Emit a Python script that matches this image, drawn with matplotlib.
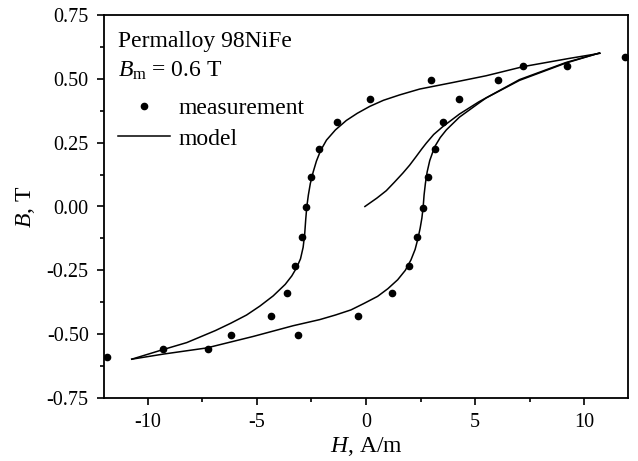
import matplotlib as mpl
mpl.use('Agg')
from matplotlib import pyplot as plt
from matplotlib.ticker import MultipleLocator

# dpi for figure
my_dpi = 100

# measured points (H in A/m, B in T)
H_meas = [11.87, 9.21, 7.21, 6.04, 4.25, 3.51, 3.14, 2.85, 2.61, 2.35, 1.97, 1.18, -0.35,
          2.99, 0.18, -1.34, -2.14, -2.50, -2.76, -2.95, -3.24, -3.61, -4.37, -6.19,
          -3.11, -7.25, -9.30, -11.84]
B_meas = [0.585, 0.551, 0.552, 0.495, 0.421, 0.329, 0.226, 0.114, -0.004, -0.121, -0.232, -0.337, -0.429,
          0.496, 0.422, 0.331, 0.226, 0.115, -0.002, -0.120, -0.233, -0.337, -0.427, -0.503,
          -0.503, -0.559, -0.557, -0.591]

# model, descending branch
H_desc = [10.72, 9.31, 7.21, 5.50, 4.00, 2.46, 1.54, 0.80, 0.17, -0.40, -0.90, -1.40, -1.81,
          -2.08, -2.27, -2.42, -2.55, -2.64, -2.71, -2.76, -2.81, -2.88, -3.00, -3.18, -3.40,
          -3.70, -4.25, -4.86, -5.47, -6.19, -6.90, -8.21, -9.28, -10.73]
B_desc = [0.600, 0.580, 0.548, 0.512, 0.486, 0.460, 0.437, 0.416, 0.392, 0.365, 0.337, 0.300, 0.260,
          0.219, 0.178, 0.135, 0.090, 0.045, 0.000, -0.050, -0.110, -0.160, -0.205, -0.240, -0.272,
          -0.305, -0.350, -0.390, -0.425, -0.457, -0.486, -0.533, -0.560, -0.598]

# model, ascending branch
H_asc = [-10.73, -9.28, -7.30, -5.17, -3.34, -2.12, -1.40, -0.69, -0.10, 0.53, 1.00, 1.45, 1.80,
         2.06, 2.25, 2.38, 2.48, 2.56, 2.62, 2.66, 2.72, 2.80, 2.92, 3.14, 3.40, 3.68, 4.28,
         5.17, 5.50, 7.03, 9.16, 10.69]
B_asc = [-0.598, -0.578, -0.554, -0.509, -0.467, -0.443, -0.425, -0.405, -0.380, -0.352, -0.322, -0.287, -0.250,
         -0.209, -0.168, -0.125, -0.085, -0.045, 0.000, 0.045, 0.090, 0.135, 0.180, 0.233, 0.270, 0.300, 0.350,
         0.405, 0.425, 0.494, 0.562, 0.601]

# model, initial magnetization curve
H_init = [-0.05, 0.50, 0.93, 1.30, 1.69, 2.00, 2.30, 2.55, 2.76, 3.10, 3.52, 4.28, 5.17, 7.03, 9.16, 10.69]
B_init = [0.000, 0.033, 0.062, 0.095, 0.131, 0.162, 0.196, 0.225, 0.248, 0.282, 0.313, 0.362, 0.410, 0.497,
          0.564, 0.601]

plt.rcParams['font.family'] = 'Liberation Serif'
plt.rcParams['mathtext.fontset'] = 'custom'
plt.rcParams['mathtext.rm'] = 'Liberation Serif'
plt.rcParams['mathtext.it'] = 'Liberation Serif:italic'
plt.rcParams['axes.unicode_minus'] = False

fig = plt.figure(figsize=(638/my_dpi, 461/my_dpi), dpi=my_dpi)
ax = fig.add_axes([104/638, 63/461, 524/638, 383/461])

ax.plot(H_desc, B_desc, color='black', linewidth=1.1, label='model')
ax.plot(H_asc, B_asc, color='black', linewidth=1.1)
ax.plot(H_init, B_init, color='black', linewidth=1.1)
ax.plot(H_meas, B_meas, linestyle='', marker='o', color='black', markersize=4.5, label='measurement')

ax.set_xlim([-12, 12])
ax.set_ylim([-0.75, 0.75])
ax.xaxis.set_major_locator(MultipleLocator(5))
ax.xaxis.set_minor_locator(MultipleLocator(2.5))
ax.yaxis.set_major_locator(MultipleLocator(0.25))
ax.yaxis.set_minor_locator(MultipleLocator(0.125))
ax.yaxis.set_major_formatter(mpl.ticker.FormatStrFormatter('%.2f'))
ax.tick_params(which='both', direction='out', top=False, right=False, width=1.2, labelsize=14.5, pad=6)
ax.tick_params(which='major', length=5)
ax.tick_params(which='minor', length=3)
for s in ax.spines.values():
  s.set_linewidth(1.3)

ax.set_xlabel(r'$H$, A/m', fontsize=17, labelpad=2)
ax.set_ylabel(r'$B$, T', fontsize=17)
ax.yaxis.set_label_coords(-0.127, 0.5)

ax.text(0.027, 0.917, 'Permalloy 98NiFe', transform=ax.transAxes, fontsize=17, va='baseline')
ax.text(0.027, 0.839, r'$B_{\mathrm{m}}$ = 0.6 T', transform=ax.transAxes, fontsize=17, va='baseline')

h, l = ax.get_legend_handles_labels()
ax.legend(h[::-1], l[::-1], loc='upper left', bbox_to_anchor=(0.027, 0.784), frameon=False,
          fontsize=17, borderpad=0, borderaxespad=0, handlelength=2.2, handletextpad=0.35,
          labelspacing=0.37, numpoints=1)

plt.savefig('out.png', dpi=my_dpi)
